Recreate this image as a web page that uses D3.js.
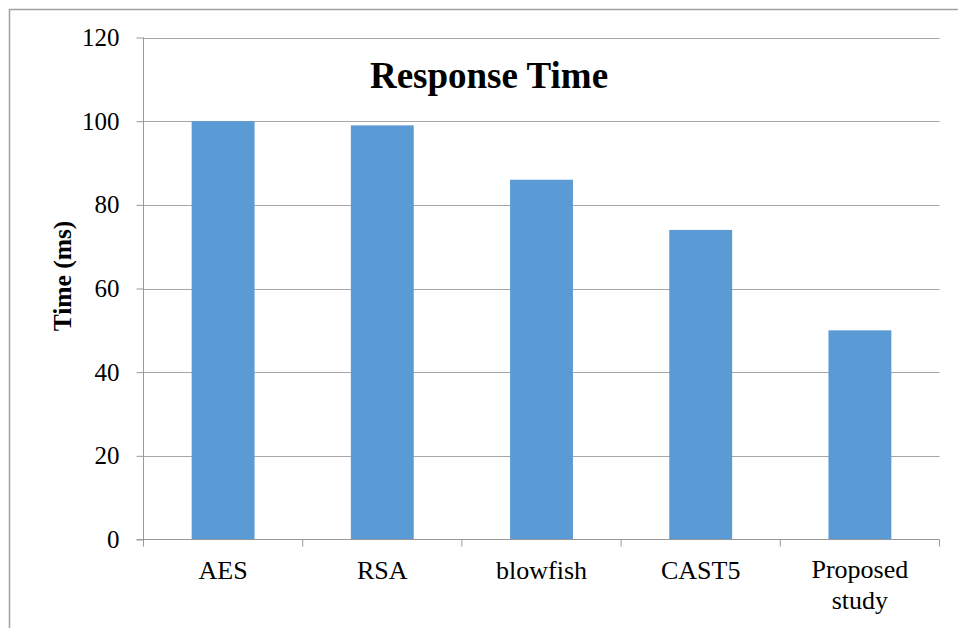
<!DOCTYPE html>
<html><head><meta charset="utf-8">
<script src="https://cdn.jsdelivr.net/npm/d3@7"></script>
<style>body{margin:0;background:#fff}svg{display:block}</style>
</head><body>
<svg id="c" width="958" height="628"></svg>
<script>
const categories = ["AES", "RSA", "blowfish", "CAST5", "Proposed study"];
const values = [100, 99, 86, 74, 50];
const yTicks = [0, 20, 40, 60, 80, 100, 120];

const svg = d3.select("#c");
const font = "'Liberation Serif','Times New Roman',serif";
const m = {left: 143.5, right: 939.5, top: 37.5, bottom: 539.5};

// outer border
svg.append("path").attr("d", "M9.5,640 V9.5 H970").attr("fill","none").attr("stroke","#a0a0a0").attr("stroke-width",1.5);

const x = d3.scaleBand().domain(categories).range([m.left, m.right]).paddingInner(0.605).paddingOuter(0.3025);
const y = d3.scaleLinear().domain([0, 120]).range([m.bottom, m.top]);

// gridlines
svg.append("g").selectAll("line").data(yTicks.filter(d => d > 0)).join("line")
  .attr("x1", m.left).attr("x2", m.right).attr("y1", d => Math.round(y(d)) + 0.5).attr("y2", d => Math.round(y(d)) + 0.5)
  .attr("stroke", "#a6a6a6").attr("stroke-width", 1.2);

// bars
svg.append("g").selectAll("rect").data(values).join("rect")
  .attr("x", (d, i) => x(categories[i])).attr("width", x.bandwidth())
  .attr("y", d => y(d)).attr("height", d => y(0) - y(d))
  .attr("fill", "#5b9bd5");

// y axis
const yAxis = d3.axisLeft(y).tickValues(yTicks).tickSize(7).tickPadding(17);
const gy = svg.append("g").attr("transform", `translate(${m.left},0)`).call(yAxis);
gy.select(".domain").attr("stroke", "#999").attr("d", `M0,${m.bottom}V${m.top}`);
gy.selectAll(".tick line").attr("stroke", "#999");
gy.selectAll(".tick text").attr("font-family", font).attr("font-size", 25).attr("fill", "#000");

// x axis
const xPos = d3.scaleLinear().domain([0, categories.length]).range([m.left, m.right]);
svg.append("line").attr("x1", m.left - 7).attr("x2", m.right).attr("y1", m.bottom).attr("y2", m.bottom).attr("stroke", "#999");
svg.append("g").selectAll("line").data(d3.range(categories.length + 1)).join("line")
  .attr("x1", d => xPos(d)).attr("x2", d => xPos(d)).attr("y1", m.bottom).attr("y2", m.bottom + 7).attr("stroke", "#999");

const xl = svg.append("g").selectAll("text").data(categories).join("text")
  .attr("x", d => x(d) + x.bandwidth() / 2).attr("y", 579)
  .attr("text-anchor", "middle").attr("font-family", font).attr("font-size", 26).attr("fill", "#000");
xl.each(function(d) {
  const t = d3.select(this);
  const words = d === "Proposed study" ? ["Proposed", "study"] : [d];
  if (words.length > 1) t.attr("y", 578);
  words.forEach((w, i) => t.append("tspan").attr("x", x(d) + x.bandwidth() / 2).attr("dy", i === 0 ? 0 : 31).text(w));
});

// title
svg.append("text").attr("x", 489).attr("y", 88).attr("text-anchor", "middle")
  .attr("font-family", font).attr("font-size", 37).attr("font-weight", "bold").text("Response Time");

// y label
svg.append("text").attr("transform", "translate(71,276) rotate(-90)").attr("text-anchor", "middle")
  .attr("font-family", font).attr("font-size", 25.5).attr("font-weight", "bold").text("Time (ms)");
</script>
</body></html>
